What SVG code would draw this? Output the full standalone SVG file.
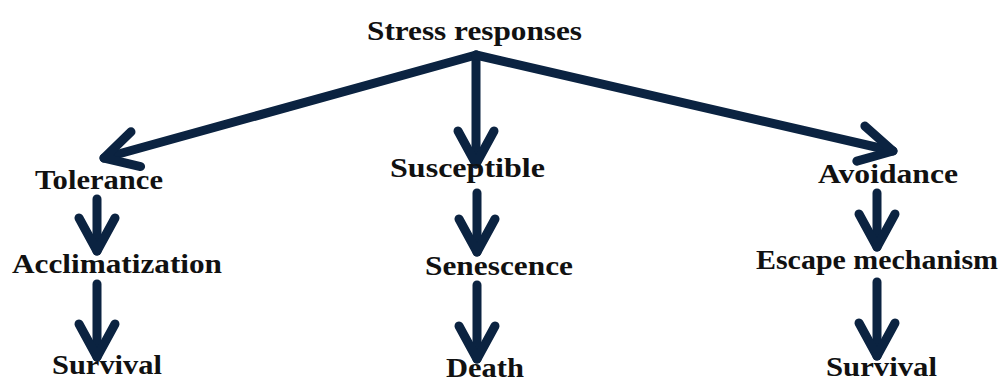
<svg xmlns="http://www.w3.org/2000/svg" width="1006" height="383" viewBox="0 0 1006 383">
<style>
text{font-family:"Liberation Serif","Times New Roman",serif;font-weight:bold;font-size:28px;fill:#111;text-anchor:middle}
.c{fill:none;stroke:#0b2341;stroke-width:9;stroke-linecap:round;stroke-linejoin:round}
</style>
<defs>
<marker id="ah" markerUnits="userSpaceOnUse" markerWidth="60" markerHeight="60" viewBox="-40 -30 50 60" refX="0" refY="0" orient="auto">
<path d="M -33 -18 L 0 0 L -33 18" fill="none" stroke="#0b2341" stroke-width="9" stroke-linecap="round" stroke-linejoin="round"/>
</marker>
</defs>
<g id="connectors">
<path class="c" d="M 476 55 L 104 158" marker-end="url(#ah)"/>
<path class="c" d="M 476 55 L 476 164" marker-end="url(#ah)"/>
<path class="c" d="M 476 55 L 893 151" marker-end="url(#ah)"/>
<path class="c" d="M 97 199 L 97 251" marker-end="url(#ah)"/>
<path class="c" d="M 97 284 L 97 357" marker-end="url(#ah)"/>
<path class="c" d="M 477 193 L 477 252" marker-end="url(#ah)"/>
<path class="c" d="M 477 285 L 477 359" marker-end="url(#ah)"/>
<path class="c" d="M 877 193 L 877 247" marker-end="url(#ah)"/>
<path class="c" d="M 877 282 L 877 356" marker-end="url(#ah)"/>
</g>
<g id="n-stress"><text x="474.5" y="40" textLength="215" lengthAdjust="spacingAndGlyphs">Stress responses</text></g>
<g id="n-tolerance"><text x="99" y="189" textLength="128" lengthAdjust="spacingAndGlyphs">Tolerance</text></g>
<g id="n-acclim"><text x="117" y="273" textLength="210" lengthAdjust="spacingAndGlyphs">Acclimatization</text></g>
<g id="n-survival1"><text x="107" y="374" textLength="110" lengthAdjust="spacingAndGlyphs">Survival</text></g>
<g id="n-susceptible"><text x="467.5" y="177" textLength="155" lengthAdjust="spacingAndGlyphs">Susceptible</text></g>
<g id="n-senescence"><text x="499" y="275" textLength="148" lengthAdjust="spacingAndGlyphs">Senescence</text></g>
<g id="n-death"><text x="485" y="377" textLength="78" lengthAdjust="spacingAndGlyphs">Death</text></g>
<g id="n-avoidance"><text x="888" y="183" textLength="140" lengthAdjust="spacingAndGlyphs">Avoidance</text></g>
<g id="n-escape"><text x="877" y="269" textLength="242" lengthAdjust="spacingAndGlyphs">Escape mechanism</text></g>
<g id="n-survival2"><text x="881.5" y="376" textLength="111" lengthAdjust="spacingAndGlyphs">Survival</text></g>
</svg>
